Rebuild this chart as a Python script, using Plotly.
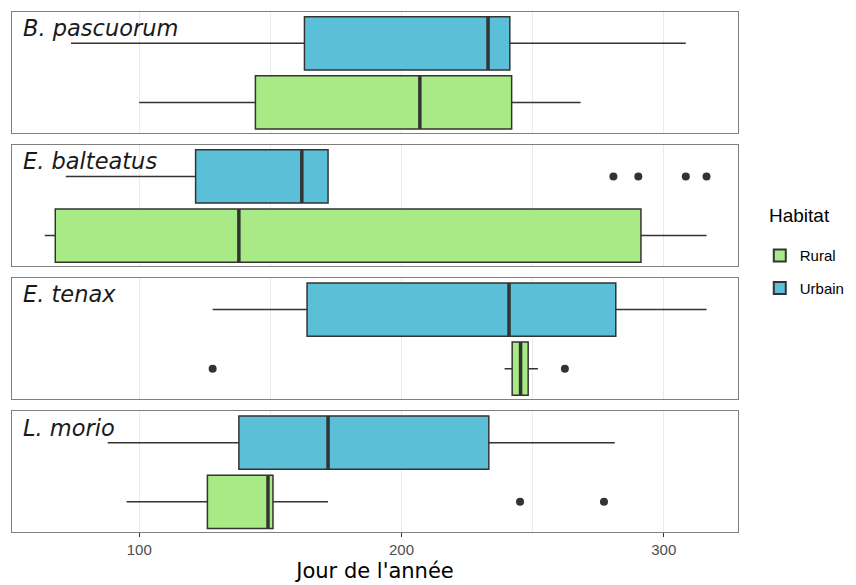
import plotly.graph_objects as go
from plotly.subplots import make_subplots

species = ["B. pascuorum", "E. balteatus", "E. tenax", "L. morio"]
habitats = ["Rural", "Urbain"]

# stats per habitat, ordered like species
urb_low = [74, 72, 128, 88]
urb_q1 = [163, 121.5, 164, 138]
urb_med = [233, 162, 241, 172]
urb_q3 = [241.3, 172, 281.7, 233.3]
urb_high = [308.4, 172, 316.3, 281.3]
urb_out = [[], [280.8, 290.3, 308.4, 316.3], [], []]

rur_low = [100, 64, 239.3, 95.2]
rur_q1 = [144.3, 68, 242.2, 126]
rur_med = [207, 138, 245.4, 149.1]
rur_q3 = [242, 291.3, 248.3, 151]
rur_high = [268.3, 316.3, 252, 172]
rur_out = [[], [], [128, 262.3], [245.2, 277.2]]

colors = {"Rural": "#A8EA85", "Urbain": "#5BBFD8"}
pos = {"Rural": 0, "Urbain": 1}
stats = {
    "Rural": (rur_low, rur_q1, rur_med, rur_q3, rur_high, rur_out),
    "Urbain": (urb_low, urb_q1, urb_med, urb_q3, urb_high, urb_out),
}

fig = make_subplots(rows=4, cols=1, shared_xaxes=True, vertical_spacing=0.024)

BW = 0.9
for i, sp in enumerate(species):
    r = i + 1
    for h in habitats:
        lo, q1, me, q3, hi, out = stats[h]
        fig.add_trace(go.Box(
            y=[pos[h]], q1=[q1[i]], median=[me[i]], q3=[q3[i]],
            lowerfence=[lo[i]], upperfence=[hi[i]], orientation="h",
            width=BW, whiskerwidth=0, boxpoints=False,
            fillcolor=colors[h], line=dict(color="#333333", width=1.5),
            name=h, legendgroup=h, showlegend=(i == 0),
            legendrank=1 if h == "Rural" else 2, hoverinfo="skip",
        ), row=r, col=1)
        fig.add_trace(go.Scatter(
            x=[me[i], me[i]], y=[pos[h] - BW / 2, pos[h] + BW / 2],
            mode="lines", line=dict(color="#333333", width=3.5),
            showlegend=False, hoverinfo="skip",
        ), row=r, col=1)
        if out[i]:
            fig.add_trace(go.Scatter(
                x=out[i], y=[pos[h]] * len(out[i]), mode="markers",
                marker=dict(color="#333333", size=8),
                showlegend=False, hoverinfo="skip",
            ), row=r, col=1)
    fig.add_annotation(
        text=sp, xref="x domain", yref="y domain" if r == 1 else f"y{r} domain",
        x=0.012, y=0.99, xanchor="left", yanchor="top", showarrow=False,
        font=dict(family="DejaVu Sans", size=22.5, color="#1a1a1a", style="italic"),
    )

# legend title as annotation
fig.add_annotation(
    text="Habitat", xref="paper", yref="paper", x=1.04, y=0.608,
    xanchor="left", yanchor="middle", showarrow=False,
    font=dict(family="Liberation Sans", size=19, color="#000"),
)

for r in range(1, 5):
    fig.update_yaxes(range=[-0.51, 1.53], showticklabels=False, ticks="",
                     showgrid=False, zeroline=False, showline=True, mirror=True,
                     linecolor="#7f7f7f", linewidth=1, row=r, col=1)
    fig.update_xaxes(range=[51.5, 328.3], tickvals=[100, 200, 300],
                     showgrid=True, gridcolor="#EBEBEB", gridwidth=1,
                     minor=dict(tickvals=[150, 250], showgrid=True,
                                gridcolor="#EBEBEB", gridwidth=1),
                     zeroline=False, showline=True, mirror=True,
                     linecolor="#7f7f7f", linewidth=1, row=r, col=1)

fig.update_xaxes(ticks="outside", ticklen=4, tickcolor="#333333",
                 tickfont=dict(family="Liberation Sans", size=15, color="#4D4D4D"),
                 title=dict(text="Jour de l'année",
                            font=dict(family="DejaVu Sans", size=21, color="#000000"),
                            standoff=6),
                 row=4, col=1)

fig.update_layout(
    width=848, height=577,
    margin=dict(l=4, r=118, t=4, b=53),
    plot_bgcolor="white", paper_bgcolor="white",
    legend=dict(
        font=dict(family="Liberation Sans", size=15, color="#000"),
        x=1.03, xanchor="left", y=0.563, yanchor="top",
        itemsizing="constant", tracegroupgap=10,
    ),
)

fig.write_html("out.html")
